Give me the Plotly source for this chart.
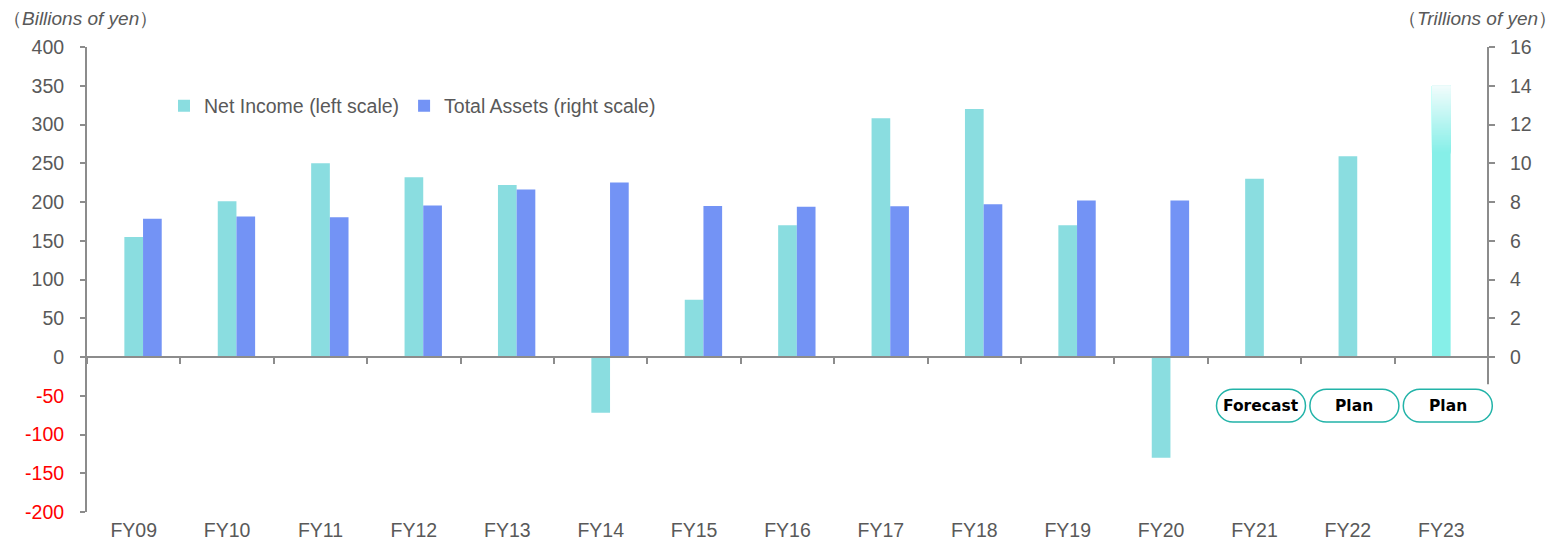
import plotly.graph_objects as go

# ---------------- data ----------------
categories = ["FY09", "FY10", "FY11", "FY12", "FY13", "FY14", "FY15", "FY16",
              "FY17", "FY18", "FY19", "FY20", "FY21", "FY22", "FY23"]
net_income = [155, 201, 250, 232, 222, -72, 74, 170, 308, 320, 170, -130, 230, 259, 350]
total_assets = [7.13, 7.25, 7.21, 7.82, 8.65, 9.01, 7.80, 7.75, 7.78, 7.89, 8.08, 8.08,
                None, None, None]
left_ticks = [-200, -150, -100, -50, 0, 50, 100, 150, 200, 250, 300, 350, 400]
right_ticks = [0, 2, 4, 6, 8, 10, 12, 14, 16]
status_labels = {"FY21": "Forecast", "FY22": "Plan", "FY23": "Plan"}
gradient_category = "FY23"

# ---------------- style ----------------
W, H = 1560, 542
ML, MR, MT, MB = 87, 72, 47, 30
NI_COLOR = "#8ADDE0"
NI_HL_COLOR = "#86EFE8"
TA_COLOR = "#7393F5"
AXIS_COLOR = "#8C8C8C"
TEXT_COLOR = "#595959"
FONT = "Liberation Sans, Arial, sans-serif"
FS = 19.5

fig = go.Figure()

ni_colors = [NI_HL_COLOR if c == gradient_category else NI_COLOR for c in categories]
fig.add_trace(go.Bar(
    x=categories, y=net_income, name="Net Income (left scale)",
    marker=dict(color=ni_colors, line=dict(width=0)),
    width=0.2, offset=-0.1, yaxis="y", xaxis="x",
))
fig.add_trace(go.Bar(
    x=categories, y=total_assets, name="Total Assets (right scale)",
    marker=dict(color=TA_COLOR, line=dict(width=0)),
    width=0.2, offset=0.1, yaxis="y2", xaxis="x",
))

# gradient top of the highlighted bar (styling only): each layer runs to the bar top
gi = categories.index(gradient_category)
gv = net_income[gi]
g_start = 0.75 * gv
n_seg = 40
c0 = (134, 239, 232)
c1 = (240, 252, 252)
for k in range(n_seg):
    t = k / (n_seg - 1)
    col = "rgb(%d,%d,%d)" % tuple(round(a + (b - a) * t) for a, b in zip(c0, c1))
    b0 = g_start + k * (gv - g_start) / n_seg
    fig.add_trace(go.Bar(
        x=[gradient_category], y=[gv - b0], base=[b0],
        marker=dict(color=col, line=dict(width=0)),
        width=0.2, offset=-0.1, showlegend=False, hoverinfo="skip",
        yaxis="y", xaxis="x",
    ))

# dummy trace to carry the zero-line axis
fig.add_trace(go.Scatter(x=categories, y=[None] * len(categories), xaxis="x2",
                         yaxis="y", showlegend=False, hoverinfo="skip"))

# ---------------- status boxes ----------------
plot_w = W - ML - MR
plot_h = H - MT - MB
n_cat = len(categories)
y_top, y_bot = -41.5, -84.0
ym = (y_top + y_bot) / 2
ry = (y_top - y_bot) / 2
hw = 44.5 / plot_w
rx = 16.5 / plot_w
kk = 0.5523
for cat, label in status_labels.items():
    cx = (categories.index(cat) + 0.5) / n_cat + 6.5 / plot_w
    L, R = cx - hw, cx + hw
    path = (
        f"M{L+rx},{y_top} L{R-rx},{y_top} "
        f"C{R-rx+kk*rx},{y_top} {R},{ym+kk*ry} {R},{ym} "
        f"C{R},{ym-kk*ry} {R-rx+kk*rx},{y_bot} {R-rx},{y_bot} "
        f"L{L+rx},{y_bot} "
        f"C{L+rx-kk*rx},{y_bot} {L},{ym-kk*ry} {L},{ym} "
        f"C{L},{ym+kk*ry} {L+rx-kk*rx},{y_top} {L+rx},{y_top} Z"
    )
    fig.add_shape(type="path", path=path, xref="paper", yref="y",
                  line=dict(color="#22B3A8", width=1.5), fillcolor="white")
    fig.add_annotation(x=cx, y=ym, xref="paper", yref="y", text="<b>%s</b>" % label,
                       xanchor="center", yanchor="middle", showarrow=False,
                       font=dict(family="DejaVu Sans, Verdana, sans-serif",
                                 size=15.5, color="black"))

# right axis line (only extends slightly below zero)
fig.add_shape(type="line", xref="paper", yref="y2", x0=1, x1=1, y0=-1.4, y1=16,
              line=dict(color=AXIS_COLOR, width=2))

# axis titles
fig.add_annotation(xref="paper", yref="paper", x=-(ML - 1) / plot_w, y=1 + 29 / plot_h,
                   xanchor="left", yanchor="middle", showarrow=False,
                   text="（<i>Billions of yen</i>）",
                   font=dict(family=FONT, size=19, color=TEXT_COLOR))
fig.add_annotation(xref="paper", yref="paper", x=1 + (1559 - (W - MR)) / plot_w,
                   y=1 + 29 / plot_h,
                   xanchor="right", yanchor="middle", showarrow=False,
                   text="（<i>Trillions of yen</i>）",
                   font=dict(family=FONT, size=19, color=TEXT_COLOR))

left_text = [("<span style='color:#FF0000'>%d</span>" % v) if v < 0 else str(v)
             for v in left_ticks]

fig.update_layout(
    width=W, height=H,
    margin=dict(l=ML, r=MR, t=MT, b=MB, pad=0, autoexpand=False),
    paper_bgcolor="white", plot_bgcolor="white",
    barmode="overlay",
    font=dict(family=FONT, size=FS, color=TEXT_COLOR),
    xaxis=dict(
        type="category", categoryorder="array", categoryarray=categories,
        range=[-0.5, n_cat - 0.5], automargin=False,
        showline=False, showgrid=False, zeroline=False, ticks="",
        tickfont=dict(size=FS, color=TEXT_COLOR), ticklabelstandoff=4,
    ),
    xaxis2=dict(
        type="category", categoryorder="array", categoryarray=categories,
        overlaying="x", anchor="free", position=1 / 3, automargin=False,
        range=[-0.5, n_cat - 0.5],
        showline=True, linecolor=AXIS_COLOR, linewidth=2,
        ticks="outside", tickson="boundaries", ticklen=6, tickwidth=1.5,
        tickcolor=AXIS_COLOR, showticklabels=False, showgrid=False, zeroline=False,
    ),
    yaxis=dict(
        range=[-200, 400], tickvals=left_ticks, ticktext=left_text, automargin=False,
        showline=True, linecolor=AXIS_COLOR, linewidth=2,
        ticks="outside", ticklen=5, tickwidth=1.5, tickcolor=AXIS_COLOR,
        showgrid=False, zeroline=False, ticklabelstandoff=12,
        tickfont=dict(size=FS, color=TEXT_COLOR),
    ),
    yaxis2=dict(
        range=[-8, 16], tickvals=right_ticks, overlaying="y", side="right",
        automargin=False,
        showline=False, ticks="outside", ticklen=6, tickwidth=1.5, tickcolor=AXIS_COLOR,
        showgrid=False, zeroline=False, ticklabelstandoff=11,
        tickfont=dict(size=FS, color=TEXT_COLOR),
    ),
    legend=dict(
        orientation="h", x=(164 - ML) / plot_w, y=(512 - 106) / plot_h,
        xanchor="left", yanchor="middle", bgcolor="rgba(0,0,0,0)",
        font=dict(size=FS, color=TEXT_COLOR),
        itemclick=False,
    ),
    showlegend=True,
)

fig.write_html("out.html")
